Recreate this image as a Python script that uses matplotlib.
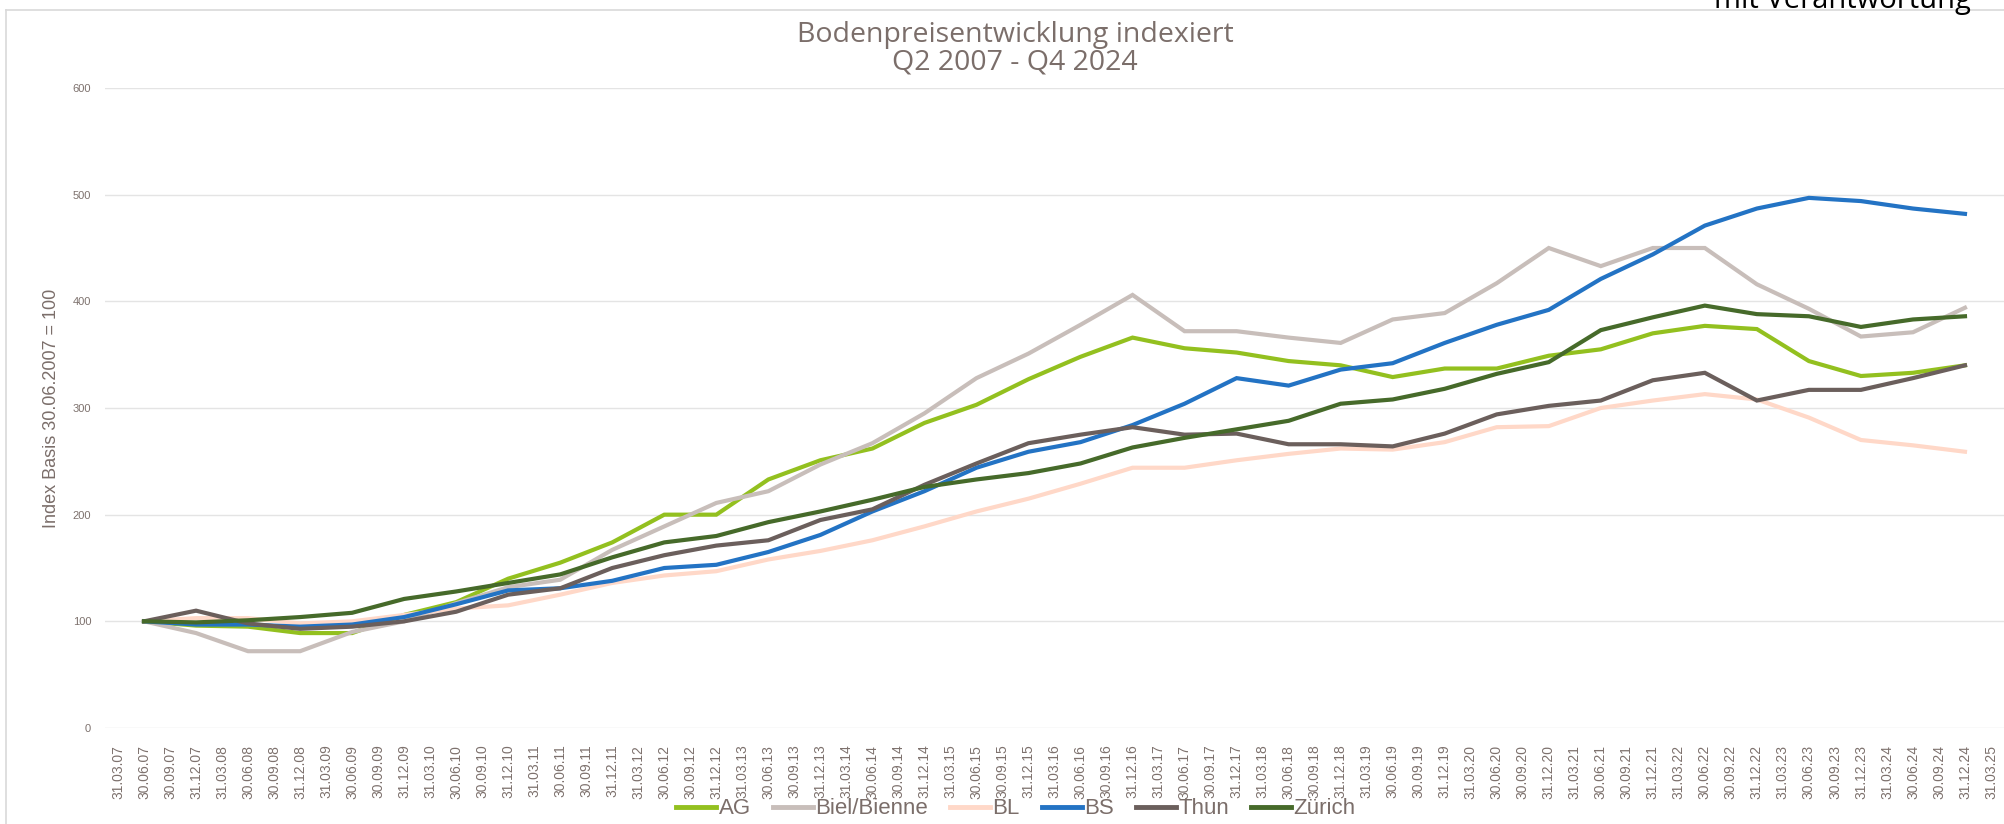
import matplotlib.pyplot as plt
from matplotlib.lines import Line2D

# Quartals-Beschriftungen der x-Achse (31.03.07 bis 31.03.25)
quartale = ['31.03', '30.06', '30.09', '31.12']
x_labels = []
for jahr in range(7, 26):
    for q in quartale:
        x_labels.append(f'{q}.{jahr:02d}')
x_labels = x_labels[:x_labels.index('31.03.25') + 1]

# Halbjährliche Datenpunkte 30.06.07 bis 31.12.24
daten_stichtage = []
for jahr in range(7, 25):
    daten_stichtage += [f'30.06.{jahr:02d}', f'31.12.{jahr:02d}']

ag = [100, 96, 95, 89, 89, 106, 118, 140, 155, 174, 200, 200, 233, 251, 262, 286, 303, 327,
      348, 366, 356, 352, 344, 340, 329, 337, 337, 349, 355, 370, 377, 374, 344, 330, 333, 340]
biel = [100, 89, 72, 72, 90, 100, 117, 132, 139, 167, 189, 211, 222, 247, 267, 295, 328, 351,
        378, 406, 372, 372, 366, 361, 383, 389, 417, 450, 433, 450, 450, 416, 393, 367, 371, 394]
bl = [100, 103, 103, 98, 100, 106, 112, 115, 125, 136, 143, 147, 158, 166, 176, 189, 203, 215,
      229, 244, 244, 251, 257, 262, 261, 268, 282, 283, 300, 307, 313, 308, 291, 270, 265, 259]
bs = [100, 97, 97, 95, 97, 104, 116, 129, 131, 138, 150, 153, 165, 181, 203, 222, 244, 259,
      268, 284, 304, 328, 321, 336, 342, 361, 378, 392, 421, 444, 471, 487, 497, 494, 487, 482]
thun = [100, 110, 98, 93, 95, 100, 109, 125, 131, 150, 162, 171, 176, 195, 205, 228, 248, 267,
        275, 282, 275, 276, 266, 266, 264, 276, 294, 302, 307, 326, 333, 307, 317, 317, 328, 340]
zuerich = [100, 99, 101, 104, 108, 121, 128, 136, 144, 160, 174, 180, 193, 203, 214, 226, 233, 239,
           248, 263, 272, 280, 288, 304, 308, 318, 332, 343, 373, 385, 396, 388, 386, 376, 383, 386]

serien = ['AG', 'Biel/Bienne', 'BL', 'BS', 'Thun', 'Zürich']
werte = [ag, biel, bl, bs, thun, zuerich]
farben = ['#93C01F', '#C8BEBA', '#FFD8C8', '#2373C4', '#6B5F5C', '#466A2A']

text_farbe = '#7B6E6A'
tick_farbe = '#7D716D'

fig = plt.figure(figsize=(20.04, 8.24), dpi=100)
ax = fig.add_axes([105 / 2004, 1 - 728 / 824, 1 - 105 / 2004, (728 - 88) / 824])

x_pos = [x_labels.index(d) for d in daten_stichtage]
for name, y, farbe in zip(serien, werte, farben):
    ax.plot(x_pos, y, color=farbe, linewidth=3.0, solid_joinstyle='miter', label=name)

ax.set_xlim(-0.5, len(x_labels) - 0.5)
ax.set_ylim(0, 600)
ax.set_yticks(range(0, 601, 100))
ax.set_xticks(range(len(x_labels)))
ax.set_xticklabels(x_labels, rotation=90, fontsize=10, color=tick_farbe,
                   family=['Liberation Sans', 'DejaVu Sans'])
for lbl in ax.get_yticklabels():
    lbl.set_fontsize(8)
    lbl.set_color(tick_farbe)
    lbl.set_family(['Liberation Sans', 'DejaVu Sans'])
ax.tick_params(axis='x', length=0, pad=12)
ax.tick_params(axis='y', length=0, pad=10)
ax.grid(axis='y', color='#E4E4E4', linewidth=1)
ax.set_axisbelow(True)
for s in ax.spines.values():
    s.set_visible(False)

ax.set_ylabel('Index Basis 30.06.2007 = 100', fontsize=13, color=text_farbe,
              family=['Liberation Sans', 'DejaVu Sans'])
ax.yaxis.set_label_coords(-0.0237, 0.5)

fig.text(1015 / 2004, 1 - 35 / 824, 'Bodenpreisentwicklung indexiert', ha='center', va='center',
         fontsize=20.5, color=text_farbe, family=['Open Sans', 'DejaVu Sans'])
fig.text(1015 / 2004, 1 - 63 / 824, 'Q2 2007 - Q4 2024', ha='center', va='center',
         fontsize=20.5, color=text_farbe, family=['Open Sans', 'DejaVu Sans'])

# abgeschnittener Text oben rechts
fig.text(1714 / 2004, 1 - 8 / 824, 'mit Verantwortung', ha='left', va='baseline',
         fontsize=21, color='black', family=['Open Sans', 'DejaVu Sans'])

# Rahmen des Diagrammbereichs
fig.add_artist(Line2D([6 / 2004, 1], [1 - 10 / 824, 1 - 10 / 824], color='#D9D9D9', linewidth=1.2))
fig.add_artist(Line2D([6 / 2004, 6 / 2004], [0, 1 - 10 / 824], color='#D9D9D9', linewidth=1.2))

leg = fig.legend(loc='center', bbox_to_anchor=(1016 / 2004, 1 - 809 / 824), ncol=6, frameon=False,
                 handlelength=1.8, handletextpad=0.1, columnspacing=1.0,
                 prop={'family': ['Liberation Sans', 'DejaVu Sans'], 'size': 16})
for t in leg.get_texts():
    t.set_color(text_farbe)
for h in leg.get_lines():
    h.set_linewidth(3.5)

fig.savefig('out.png', dpi=100)
